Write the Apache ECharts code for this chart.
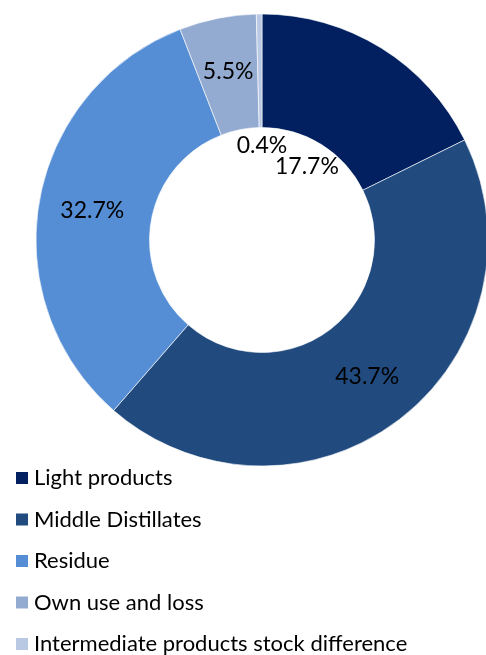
<!DOCTYPE html>
<html>
<head>
<meta charset="utf-8">
<script src="https://cdn.jsdelivr.net/npm/echarts@6/dist/echarts.min.js"></script>
<style>
  html, body { margin: 0; padding: 0; background: #fff; }
  #chart { width: 486px; height: 655px; }
</style>
</head>
<body>
<div id="chart"></div>
<script>
// Refinery output shares (%)
const categories = [
  'Light products',
  'Middle Distillates',
  'Residue',
  'Own use and loss',
  'Intermediate products stock difference'
];
const shares = [17.7, 43.7, 32.7, 5.5, 0.4];
const colors = ['#02205f', '#214a7e', '#558ed5', '#94abd1', '#b9c9e3'];

const FONT = 'Lato, "Open Sans", sans-serif';

// The two thin top slices carry their labels inside the hole
const labelOverrides = [
  { offset: [-46, 73] },
  null,
  null,
  null,
  { position: 'center', offset: [0, -94] }
];

const data = categories.map((name, i) => {
  const item = { name, value: shares[i], itemStyle: { color: colors[i] } };
  if (labelOverrides[i]) item.label = labelOverrides[i];
  return item;
});

const chart = echarts.init(document.getElementById('chart'), null, { renderer: 'canvas' });
chart.setOption({
  animation: false,
  legend: {
    orient: 'vertical',
    left: 9,
    top: 462,
    height: 300,
    itemWidth: 14,
    itemHeight: 14,
    itemGap: 19.5,
    icon: 'rect',
    textStyle: { fontFamily: FONT, fontSize: 22, color: '#000' },
    data: categories
  },
  series: [{
    type: 'pie',
    center: [262, 240],
    radius: [112.5, 226],
    startAngle: 90,
    clockwise: true,
    avoidLabelOverlap: false,
    minShowLabelAngle: 0,
    labelLayout: { hideOverlap: false },
    itemStyle: { borderColor: '#ffffff', borderWidth: 0.6 },
    label: {
      show: true,
      position: 'inside',
      formatter: p => p.value.toFixed(1) + '%',
      fontFamily: FONT,
      fontSize: 23,
      color: '#000'
    },
    labelLine: { show: false },
    emphasis: { disabled: true },
    data: data
  }]
});
</script>
</body>
</html>
